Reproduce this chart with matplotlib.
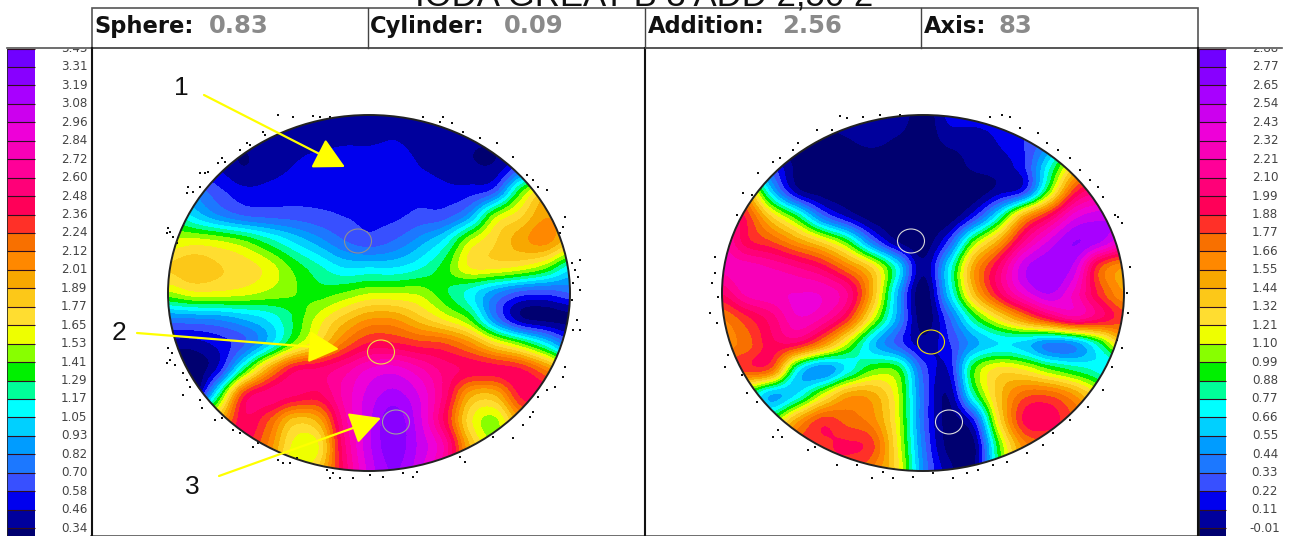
"""Power map pair: sphere (left) and cylinder (right) with colour scales."""

import matplotlib
matplotlib.use('Agg')
import matplotlib.pyplot as plt
import numpy as np
from matplotlib.colors import BoundaryNorm, ListedColormap
from matplotlib.patches import Ellipse, Rectangle

W, H = 1289, 536

LEFT_TICKS = ['0.34', '0.46', '0.58', '0.70', '0.82', '0.93', '1.05', '1.17', '1.29',
              '1.41', '1.53', '1.65', '1.77', '1.89', '2.01', '2.12', '2.24', '2.36',
              '2.48', '2.60', '2.72', '2.84', '2.96', '3.08', '3.19', '3.31', '3.43']
RIGHT_TICKS = ['-0.01', '0.11', '0.22', '0.33', '0.44', '0.55', '0.66', '0.77', '0.88',
               '0.99', '1.10', '1.21', '1.32', '1.44', '1.55', '1.66', '1.77', '1.88',
               '1.99', '2.10', '2.21', '2.32', '2.43', '2.54', '2.65', '2.77', '2.88']
BAND_COLORS = ['#000070', '#00009c', '#0000ee', '#3850ff', '#1c78ff', '#009cff', '#00d0ff',
               '#00ffff', '#00ff99', '#00f000', '#88ff00', '#eeff00', '#ffdd30', '#fcc818',
               '#f8a800', '#ff8800', '#f87000', '#ff3028', '#ff0058', '#ff0078', '#ff0098',
               '#f800b8', '#ee00d8', '#cc00ee', '#a800ff', '#8800ff', '#7000ff']

# map values, rows top to bottom, columns left to right
LEFT_MAP = [
    [.42, .42, .42, .42, .42, .42, .42, .42, .42, .42, .42, .42, .42, .42, .42, .42, .42],
    [.42, .42, .40, .36, .42, .42, .42, .44, .44, .46, .42, .42, .36, .36, .40, .50, .60],
    [.50, .50, .45, .34, .42, .46, .52, .55, .55, .55, .46, .42, .36, .36, .60, .80, .90],
    [.90, .80, .62, .50, .50, .52, .54, .56, .56, .56, .54, .50, .52, .66, 1.35, 1.8, 1.9],
    [1.3, 1.05, .85, .72, .68, .66, .62, .58, .56, .56, .62, .66, .90, 1.5, 1.75, 2.0, 1.9],
    [1.55, 1.6, 1.56, 1.45, 1.25, 1.05, .88, .72, .64, .72, .88, 1.1, 1.55, 1.76, 1.95, 2.05, 1.8],
    [1.78, 1.85, 1.78, 1.72, 1.6, 1.38, 1.2, 1.05, 1.05, 1.05, 1.15, 1.35, 1.65, 1.68, 1.62, 1.45, 1.1],
    [1.5, 1.62, 1.62, 1.58, 1.5, 1.42, 1.35, 1.42, 1.52, 1.52, 1.5, 1.32, 1.12, .85, .66, .62, .70],
    [.80, .82, .85, .95, 1.08, 1.3, 1.58, 1.82, 2.0, 2.0, 1.82, 1.62, 1.38, .80, .38, .30, .30],
    [.40, .40, .50, .68, 1.0, 1.45, 1.78, 2.15, 2.38, 2.38, 2.3, 2.25, 2.05, 1.72, 1.45, 1.1, .70],
    [.20, .25, .50, 1.25, 1.95, 2.42, 2.5, 2.65, 2.85, 2.9, 2.75, 2.55, 2.45, 2.42, 2.38, 2.1, 1.7],
    [.30, .30, 1.2, 2.3, 2.55, 2.5, 2.45, 2.75, 3.0, 3.12, 2.95, 2.55, 1.95, 1.9, 2.38, 2.45, 2.5],
    [1.5, 1.7, 1.9, 2.45, 2.25, 1.85, 1.95, 2.65, 3.05, 3.25, 3.0, 2.45, 1.7, 1.5, 2.0, 2.3, 2.4],
    [2.0, 2.2, 2.3, 2.4, 2.1, 1.62, 1.65, 2.55, 3.05, 3.25, 3.05, 2.7, 1.9, 1.55, 1.9, 2.2, 2.3],
    [2.2, 2.3, 2.3, 2.3, 2.0, 1.6, 1.8, 2.5, 3.0, 3.2, 3.0, 2.6, 2.0, 1.7, 1.9, 2.2, 2.3],
]
RIGHT_MAP = [
    [.05, .05, .05, .05, .05, .10, .12, .10, -.1, .14, .16, .16, .20, .25, .25, .25, .25],
    [.00, .00, -.05, -.08, -.08, -.02, .03, -.03, -.1, .03, .05, .12, .22, .40, .80, .90, .90],
    [.90, .60, .25, -.05, -.1, -.1, -.1, -.1, -.1, -.1, .02, .06, .20, .72, 1.3, 1.7, 1.8],
    [1.9, 1.45, .60, .05, -.08, -.1, -.1, -.1, -.1, -.1, -.1, .05, .22, 1.0, 1.82, 2.1, 2.2],
    [2.2, 1.85, 1.32, .90, .38, .10, -.08, -.1, -.1, -.1, .20, .75, 1.5, 1.95, 2.38, 2.5, 2.5],
    [2.25, 1.93, 1.78, 1.55, 1.3, .95, .38, .0, -.1, .25, 1.0, 1.5, 2.1, 2.45, 2.65, 2.55, 2.3],
    [2.25, 2.27, 2.2, 2.1, 1.95, 1.65, 1.3, .70, .02, .65, 1.5, 2.0, 2.5, 2.62, 2.5, 1.8, 1.55],
    [2.0, 2.25, 2.3, 2.32, 2.3, 2.1, 1.45, .55, -.1, .60, 1.4, 1.95, 2.35, 2.55, 2.3, 1.85, 1.55],
    [1.65, 1.85, 2.05, 2.3, 2.2, 1.85, 1.15, .50, -.08, .30, .85, 1.25, 1.6, 1.92, 2.15, 2.0, 1.8],
    [1.6, 1.72, 1.95, 1.95, 1.6, 1.1, .60, .30, .05, .20, .50, .66, .62, .42, .48, .85, 1.4],
    [1.7, 1.82, 1.72, .75, .45, .70, .98, .95, .30, .12, .95, 1.25, 1.2, 1.0, .85, .72, .50],
    [.90, .90, .55, .68, 1.12, 1.5, 1.48, 1.12, .35, .00, .80, 1.38, 1.72, 1.75, 1.55, 1.2, .90],
    [1.0, 1.0, 1.0, 1.5, 1.82, 1.72, 1.6, 1.15, .35, -.05, .20, 1.25, 1.9, 1.95, 1.75, 1.5, 1.3],
    [1.5, 1.6, 1.7, 1.8, 1.85, 1.9, 1.8, 1.2, .40, -.05, -.05, .95, 1.6, 1.7, 1.6, 1.5, 1.4],
    [1.6, 1.6, 1.6, 1.7, 1.8, 1.8, 1.65, 1.25, .45, .05, -.02, .90, 1.5, 1.6, 1.6, 1.5, 1.4],
]

HEADER_NAMES = ['Sphere:', 'Cylinder:', 'Addition:', 'Axis:']
HEADER_VALUES = ['0.83', '0.09', '2.56', '83']

# stray measurement points around the rims (picture pixels)
LEFT_SPECK_X = [278, 293, 313, 320, 330, 263, 265, 247, 250, 240, 222, 225, 218, 200, 205, 208,
                188, 187, 193, 200, 168, 170, 173, 177, 167, 168, 172, 170, 175, 167, 183, 187,
                190, 183, 200, 202, 215, 222, 233, 240, 253, 258, 278, 283, 290, 297, 327, 333,
                330, 340, 353, 370, 383, 403, 413, 417, 460, 465, 493, 513, 523, 530, 533, 538,
                547, 555, 563, 565, 573, 580, 577, 572, 580, 573, 578, 572, 580, 575, 565, 563,
                560, 547, 538, 533, 527, 513, 497, 480, 463, 452, 443, 440, 423]
LEFT_SPECK_Y = [115, 117, 116, 117, 117, 132, 135, 143, 145, 150, 158, 162, 163, 173, 173, 172,
                187, 193, 192, 187, 228, 232, 237, 243, 233, 348, 353, 360, 365, 363, 373, 380,
                387, 395, 400, 408, 420, 418, 430, 433, 447, 443, 460, 463, 463, 458, 470, 473,
                478, 478, 478, 475, 477, 473, 477, 472, 457, 462, 437, 438, 425, 417, 412, 397,
                390, 387, 377, 367, 330, 330, 320, 300, 290, 283, 277, 263, 260, 270, 217, 227,
                233, 190, 187, 180, 175, 157, 143, 138, 132, 123, 117, 122, 117]
RIGHT_SPECK_X = [840, 847, 863, 817, 832, 798, 793, 780, 773, 758, 743, 752, 737, 715, 712, 715,
                 718, 710, 717, 728, 725, 742, 747, 757, 778, 782, 773, 808, 815, 837, 857, 872,
                 883, 893, 913, 933, 953, 967, 978, 993, 1007, 1027, 1043, 1053, 1070, 1088,
                 1103, 1112, 1122, 1117, 1128, 1127, 1130, 1118, 1122, 1115, 1103, 1098, 1090,
                 1080, 1070, 1058, 1047, 1038, 1020, 1010, 1002, 990, 900, 880]
RIGHT_SPECK_Y = [116, 118, 117, 130, 130, 143, 150, 158, 162, 173, 193, 195, 215, 257, 283, 273,
                 297, 313, 323, 355, 367, 375, 393, 402, 430, 437, 437, 450, 447, 465, 465, 478,
                 472, 478, 477, 473, 478, 473, 470, 465, 462, 453, 445, 433, 420, 407,
                 390, 367, 348, 340, 313, 293, 267, 217, 223, 215, 197, 187, 180,
                 170, 158, 150, 143, 133, 128, 117, 115, 117, 115, 115]

ARROW_STARTS = [(204, 95), (137, 333), (219, 476)]
ARROW_TIPS = [(345, 167), (339, 349), (381, 418)]
ARROW_LABELS = ['1', '2', '3']
LABEL_POS = [(181, 88), (119, 333), (192, 487)]


def px_axes(fig, x0, y0, x1, y1):
    """Axes placed by picture pixels, y measured from the top."""
    return fig.add_axes([x0 / W, 1 - y1 / H, (x1 - x0) / W, (y1 - y0) / H])


def draw_scale(fig, x0, x1, bar0, bar1, text_x, ticks):
    ax = px_axes(fig, x0, 48.5, x1, 536)
    ax.set_xlim(x0, x1)
    ax.set_ylim(-0.43, 26)
    ax.axis('off')
    edges = np.r_[-0.43, np.arange(27)]
    values = np.arange(27).reshape(-1, 1)
    ax.pcolormesh([bar0, bar1], edges, values, cmap=ListedColormap(BAND_COLORS), vmin=-0.5, vmax=26.5)
    ax.hlines(np.arange(27), bar0, bar1, color='#301020', lw=0.8)
    for i, label in enumerate(ticks):
        ax.text(text_x, i, label, ha='center', va='center', fontsize=8.6, color='#444444', clip_on=True)
    ax.plot([bar0, bar0], [-0.43, 26], color='#222222', lw=0.6)


def draw_map(fig, cx, grid, ticks, rings, speck_x, speck_y):
    rx, ry = 201, 178
    ax = px_axes(fig, cx - 277, 48, cx + 277, 536)
    ax.axis('off')
    levels = [float(t) for t in ticks]
    bounds = [-5] + levels + [9]
    cmap = ListedColormap(BAND_COLORS + [BAND_COLORS[-1]])
    norm = BoundaryNorm(bounds, cmap.N)
    dx, dy = rx / 8, ry / 7
    im = ax.imshow(grid, extent=(cx - rx - dx / 2, cx + rx + dx / 2, 293 + ry + dy / 2, 293 - ry - dy / 2),
                   cmap=cmap, norm=norm, interpolation='catrom', interpolation_stage='data',
                   aspect='auto', zorder=1)
    ax.set_xlim(cx - 277, cx + 277)
    ax.set_ylim(536, 48)
    rim = Ellipse((cx, 293), 2 * rx, 2 * ry, transform=ax.transData, fc='none', ec='#222222', lw=1.4, zorder=3)
    ax.add_patch(rim)
    im.set_clip_path(rim)
    ax.scatter(speck_x, speck_y, s=3.2, marker='s', color='#111111', linewidths=0, zorder=2)
    for (x, y, color) in rings:
        ax.add_patch(Ellipse((x, y), 27, 24, fc='none', ec=color, lw=0.8, zorder=4))


fig = plt.figure(figsize=(W / 100, H / 100), dpi=100, facecolor='white')

draw_scale(fig, 0, 91, 7, 35, 74, LEFT_TICKS)
draw_scale(fig, 1198, 1289, 1199, 1226, 1265, RIGHT_TICKS)
draw_map(fig, 369, LEFT_MAP, LEFT_TICKS,
         [(358, 241, '#909090'), (381, 352, '#f0e040'), (396, 422, '#a0a0a0')], LEFT_SPECK_X, LEFT_SPECK_Y)
draw_map(fig, 923, RIGHT_MAP, RIGHT_TICKS,
         [(911, 241, '#d8d8d8'), (931, 342, '#f0e000'), (949, 422, '#e0e0e0')], RIGHT_SPECK_X, RIGHT_SPECK_Y)

# overlay for frames, header, arrows
top = px_axes(fig, 0, 0, W, H)
top.set_xlim(0, W)
top.set_ylim(H, 0)
top.axis('off')
top.patch.set_alpha(0)

top.text(644, 6, 'IODA GREAT B 3 ADD 2,50 2', ha='center', va='baseline', fontsize=25,
         family='Liberation Sans', color='#111111', clip_on=True)
top.add_patch(Rectangle((91.5, 8), 1106.5, 40, fc='white', ec='#555555', lw=1.2))
top.plot([7, 1282], [48, 48], color='#555555', lw=1.2)
top.plot([91, 1198], [535.5, 535.5], color='#555555', lw=1.2)
for x in [91.5, 645, 1198]:
    top.plot([x, x], [48, 536], color='#111111', lw=1.5)
for x in [368, 645, 921]:
    top.plot([x, x], [8, 48], color='#444444', lw=1)

name_x = [94, 370, 648, 924]
value_x = [209, 504, 782, 999]
for nx, vx, name, value in zip(name_x, value_x, HEADER_NAMES, HEADER_VALUES):
    top.text(nx, 33, name, ha='left', va='baseline', fontsize=16.3, fontweight='bold',
             family='DejaVu Sans', color='#111111')
    top.text(vx, 33, value, ha='left', va='baseline', fontsize=17.5, fontweight='bold',
             family='DejaVu Sans', color='#8a8a8a')

for start, tip in zip(ARROW_STARTS, ARROW_TIPS):
    top.annotate('', xy=tip, xytext=start,
                 arrowprops=dict(arrowstyle='-|>,head_length=0.95,head_width=0.5', color='#ffff00', lw=1.6,
                                 shrinkA=0, shrinkB=0, mutation_scale=20))
for pos, label in zip(LABEL_POS, ARROW_LABELS):
    top.text(pos[0], pos[1], label, ha='center', va='center', fontsize=19,
             family='Liberation Sans', color='#111111')

fig.savefig('out.png', dpi=100)
plt.close(fig)
